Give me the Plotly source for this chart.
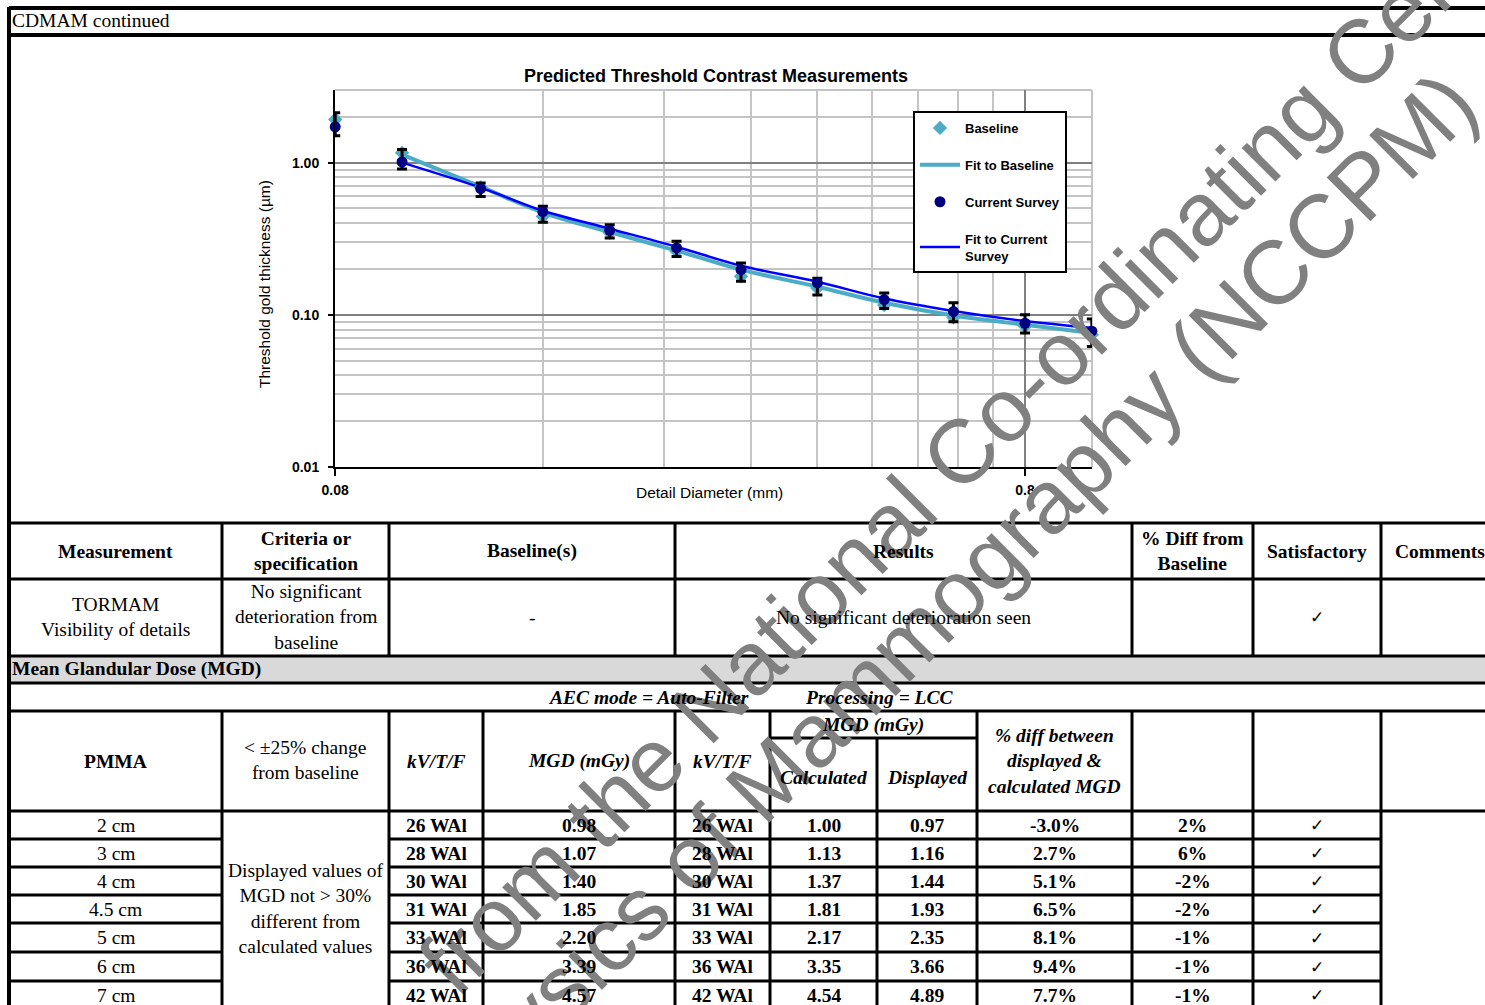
import plotly.graph_objects as go

W, H = 1485, 1005


def px(x):
    return x / W


def py(y):
    return 1 - y / H


# ---------------- chart data ----------------
diameter_mm = [0.08, 0.10, 0.13, 0.16, 0.20, 0.25, 0.31, 0.40, 0.50, 0.63, 0.80, 1.00]
baseline_um = [1.92, 1.16, 0.69, 0.443, 0.346, 0.261, 0.179, 0.150, 0.116, 0.096, 0.084, 0.074]
current_um = [1.72, 1.01, 0.675, 0.476, 0.359, 0.275, 0.198, 0.162, 0.126, 0.105, 0.088, 0.078]
current_upper = [2.13, 1.22, 0.735, 0.516, 0.39, 0.304, 0.219, 0.174, 0.139, 0.120, 0.100, 0.094]
current_lower = [1.50, 0.909, 0.60, 0.405, 0.32, 0.242, 0.166, 0.135, 0.110, 0.090, 0.076, 0.062]
fit_diameter_mm = [0.10, 0.13, 0.16, 0.20, 0.25, 0.31, 0.40, 0.50, 0.63, 0.80, 1.00]
fit_baseline_um = [1.13, 0.695, 0.47, 0.35, 0.264, 0.198, 0.153, 0.12, 0.099, 0.086, 0.076]
fit_current_um = [1.0, 0.685, 0.483, 0.368, 0.28, 0.21, 0.165, 0.128, 0.106, 0.091, 0.082]

y_tick_vals = [0.01, 0.1, 1.0]
y_tick_text = ["0.01", "0.10", "1.00"]
x_tick_vals = [0.08, 0.8]
x_tick_text = ["0.08", "0.8"]
y_minor_vals = [k * 0.01 for k in range(2, 10)] + [k * 0.1 for k in range(2, 10)] + [2.0, 3.0]
x_minor_vals = [k * 0.08 for k in range(2, 10)]

# ---------------- table data ----------------
header_cols = ["Measurement", "Criteria or<br>specification", "Baseline(s)", "Results",
               "% Diff from<br>Baseline", "Satisfactory"]
tormam_row = ["TORMAM<br>Visibility of details", "No significant<br>deterioration from<br>baseline",
              "-", "No significant deterioration seen", "", "\u2713"]
pmma = ["2 cm", "3 cm", "4 cm", "4.5 cm", "5 cm", "6 cm", "7 cm"]
base_kvtf = ["26 WAl", "28 WAl", "30 WAl", "31 WAl", "33 WAl", "36 WAl", "42 WAl"]
base_mgd = ["0.98", "1.07", "1.40", "1.85", "2.20", "3.39", "4.57"]
cur_kvtf = ["26 WAl", "28 WAl", "30 WAl", "31 WAl", "33 WAl", "36 WAl", "42 WAl"]
mgd_calc = ["1.00", "1.13", "1.37", "1.81", "2.17", "3.35", "4.54"]
mgd_disp = ["0.97", "1.16", "1.44", "1.93", "2.35", "3.66", "4.89"]
pct_disp_calc = ["-3.0%", "2.7%", "5.1%", "6.5%", "8.1%", "9.4%", "7.7%"]
pct_from_base = ["2%", "6%", "-2%", "-2%", "-1%", "-1%", "-1%"]
satisfactory = ["\u2713"] * 7

# ---------------- layout geometry (page pixels) ----------------
PLOT_L, PLOT_R, PLOT_T, PLOT_B = 335, 1092, 90, 467
top_cols = [9, 222, 389, 675, 1132, 1253, 1381, 1485]
mgd_cols = [9, 222, 389, 483, 675, 770, 877, 977, 1132, 1253, 1381, 1485]
data_row_lines = [811, 839, 867, 895, 923, 952, 981, 1009]

SERIF = "Liberation Serif, Times New Roman, serif"
SANS = "Liberation Sans, Arial, sans-serif"
CHECK = "DejaVu Sans, sans-serif"
TS = 19.5  # table font size

fig = go.Figure()

fig.add_trace(go.Scatter(
    x=fit_diameter_mm, y=fit_baseline_um, mode="lines", name="<b>Fit to Baseline</b>",
    line=dict(color="#4BACC6", width=4, shape="spline"), legendgroup="g2", legendrank=2))
fig.add_trace(go.Scatter(
    x=fit_diameter_mm, y=fit_current_um, mode="lines", name="<b>Fit to Current<br>Survey</b>",
    line=dict(color="#0000FF", width=2.5, shape="spline"), legendgroup="g4", legendrank=4))
fig.add_trace(go.Scatter(
    x=diameter_mm, y=baseline_um, mode="markers", name="<b>Baseline</b>", cliponaxis=False,
    marker=dict(symbol="diamond", size=11, color="#4BACC6"), legendgroup="g1", legendrank=1))
fig.add_trace(go.Scatter(
    x=diameter_mm, y=current_um, mode="markers", name="<b>Current Survey</b>", cliponaxis=False,
    marker=dict(symbol="circle", size=11, color="#000080"),
    error_y=dict(type="data", symmetric=False,
                 array=[u - v for u, v in zip(current_upper, current_um)],
                 arrayminus=[v - l for v, l in zip(current_um, current_lower)],
                 color="black", thickness=3, width=5),
    legendgroup="g3", legendrank=3))

fig.update_xaxes(
    type="log", range=[-1.0972, 0.0002],
    domain=[px(PLOT_L), px(PLOT_R)],
    tickmode="array", tickvals=x_tick_vals, ticktext=x_tick_text,
    tickfont=dict(family=SANS, size=14, color="black", weight="bold"),
    showgrid=True, gridcolor="#808080", gridwidth=1.5,
    minor=dict(tickmode="array", tickvals=x_minor_vals, showgrid=True,
               gridcolor="#C4C4C4", gridwidth=2, ticks=""),
    showline=True, linecolor="black", linewidth=2,
    ticks="outside", ticklen=7, tickwidth=2, tickcolor="black",
    ticklabelstandoff=2, zeroline=False, automargin=False,
)
fig.update_yaxes(
    type="log", range=[-2.0, 0.4771],
    domain=[py(PLOT_B), py(PLOT_T)],
    tickmode="array", tickvals=y_tick_vals, ticktext=y_tick_text,
    tickfont=dict(family=SANS, size=14, color="black", weight="bold"),
    showgrid=True, gridcolor="#808080", gridwidth=1.5,
    minor=dict(tickmode="array", tickvals=y_minor_vals, showgrid=True,
               gridcolor="#C4C4C4", gridwidth=2, ticks=""),
    showline=True, linecolor="black", linewidth=2,
    ticks="outside", ticklen=5, tickwidth=2, tickcolor="black",
    ticklabelstandoff=6, zeroline=False, automargin=False,
)

shapes = []
shapes.append(dict(type="line", xref="x domain", yref="y domain", x0=1, x1=1, y0=0, y1=1,
                   line=dict(color="#C4C4C4", width=2), layer="below"))
shapes.append(dict(type="line", xref="x domain", yref="y domain", x0=0, x1=1, y0=1, y1=1,
                   line=dict(color="#C4C4C4", width=2), layer="below"))


def hline(y, x0, x1, w=3):
    shapes.append(dict(type="line", xref="paper", yref="paper", x0=px(x0), x1=px(x1),
                       y0=py(y), y1=py(y), line=dict(color="black", width=w)))


def vline(x, y0, y1, w=3):
    shapes.append(dict(type="line", xref="paper", yref="paper", x0=px(x), x1=px(x),
                       y0=py(y0), y1=py(y1), line=dict(color="black", width=w)))


shapes.append(dict(type="rect", xref="paper", yref="paper", x0=px(9), x1=px(1485),
                   y0=py(683), y1=py(657), fillcolor="#D9D9D9", line=dict(width=0), layer="below"))

vline(9, 7, 1005, 4)
hline(8, 9, 1485, 4)
hline(35, 9, 1485, 4)
hline(523, 9, 1485)
hline(579, 9, 1485)
hline(656, 9, 1485)
hline(683, 9, 1485)
hline(711, 9, 1485)
for x in top_cols[1:-1]:
    vline(x, 523, 656)
for x in [222, 389, 483, 675, 770, 977, 1132, 1253, 1381]:
    vline(x, 711, 811)
vline(877, 738, 811)
hline(738, 770, 977)
hline(811, 9, 1485)
for x in mgd_cols[1:-1]:
    vline(x, 811, 1005)
for y in data_row_lines[1:-1]:
    hline(y, 9, 222)
    hline(y, 389, 1381)

annotations = []


def text(x, y, s, size=TS, family=SERIF, xanchor="center", color="black", **kw):
    annotations.append(dict(x=px(x), y=py(y), xref="paper", yref="paper", text=s,
                            showarrow=False, xanchor=xanchor, yanchor="middle",
                            font=dict(family=family, size=size, color=color), **kw))


# watermark
text(982, 431, "from the National Co-ordinating Centre", size=90, family=SANS,
     color="#808080", textangle=-45)
text(848, 700, "for the Physics of Mammography (NCCPM)", size=90, family=SANS,
     color="#808080", textangle=-45)

text(716, 76, "<b>Predicted Threshold Contrast Measurements</b>", size=18, family=SANS)
text(709, 493, "Detail Diameter (mm)", size=15.5, family=SANS)
text(265, 284, "Threshold gold thickness (\u00b5m)", size=15.5, family=SANS, textangle=-90)

text(10, 21, "CDMAM continued", xanchor="left")
text(10, 669, "<b>Mean Glandular Dose (MGD)</b>", xanchor="left")
text(546, 697, "<b><i>AEC mode = Auto-Filter</i></b>", xanchor="left")
text(803, 697, "<b><i>Processing = LCC</i></b>", xanchor="left")

top_centers = [(a + b) / 2 for a, b in zip(top_cols[:-1], top_cols[1:])]
for cx, h in zip(top_centers[:-1], header_cols):
    text(cx, 551, "<b>" + h + "</b>")
text(1393, 551, "<b>Comments</b>", xanchor="left")
for cx, v in zip(top_centers[:-1], tormam_row):
    if v == "\u2713":
        text(cx, 617, v, size=17, family=CHECK)
    elif v:
        text(cx, 617, v)

text(116, 761, "<b>PMMA</b>")
text(305, 760, "< \u00b125% change<br>from baseline")
text(436, 761, "<b><i>kV/T/F</i></b>")
text(579, 761, "<b><i>MGD (mGy)</i></b>")
text(722, 761, "<b><i>kV/T/F</i></b>")
text(873, 725, "<b><i>MGD (mGy)</i></b>")
text(823, 777, "<b><i>Calculated</i></b>")
text(927, 777, "<b><i>Displayed</i></b>")
text(1054, 761, "<b><i>% diff between<br>displayed &amp;<br>calculated MGD</i></b>")
text(305, 908, "Displayed values of<br>MGD not > 30%<br>different from<br>calculated values")

mgd_centers = [(a + b) / 2 for a, b in zip(mgd_cols[:-1], mgd_cols[1:])]
row_centers = [(a + b) / 2 for a, b in zip(data_row_lines[:-1], data_row_lines[1:])]
columns = [(0, pmma, False), (2, base_kvtf, True), (3, base_mgd, True), (4, cur_kvtf, True),
           (5, mgd_calc, True), (6, mgd_disp, True), (7, pct_disp_calc, True), (8, pct_from_base, True)]
for ci, vals, bold in columns:
    for ry, v in zip(row_centers, vals):
        text(mgd_centers[ci], ry, "<b>" + v + "</b>" if bold else v)
for ry, v in zip(row_centers, satisfactory):
    text(mgd_centers[9], ry, v, size=17, family=CHECK)

fig.update_layout(
    width=W, height=H,
    margin=dict(l=0, r=0, t=0, b=0, pad=0, autoexpand=False),
    paper_bgcolor="white", plot_bgcolor="white",
    showlegend=True,
    legend=dict(x=px(913), y=py(111), xanchor="left", yanchor="top",
                bgcolor="white", bordercolor="black", borderwidth=2,
                font=dict(family=SANS, size=13, color="black"),
                tracegroupgap=17, itemwidth=40),
    shapes=shapes,
    annotations=annotations,
)

fig.write_html("out.html", config={"displayModeBar": False},
               post_script="document.body.style.margin='0';document.body.style.overflow='hidden';")
